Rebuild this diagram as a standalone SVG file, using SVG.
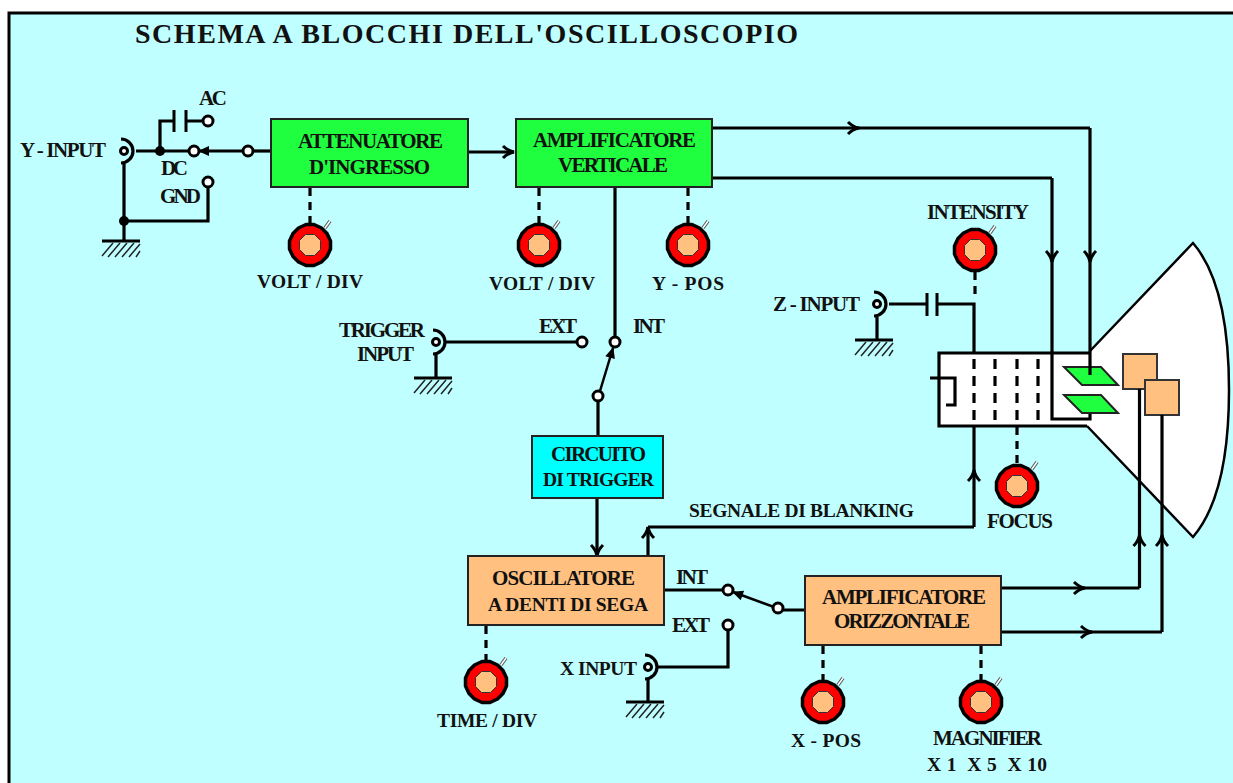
<svg xmlns="http://www.w3.org/2000/svg" width="1233" height="783" viewBox="0 0 1233 783">
<style>
text{font-family:"Liberation Serif","Times New Roman",serif;font-weight:bold;font-size:21px;fill:#111}
.title{font-size:28px}
.n{font-size:19.500px}
.box{stroke:#222;stroke-width:2}
.w{fill:none;stroke:#000;stroke-width:3.2}
.d{fill:none;stroke:#000;stroke-width:3.2;stroke-dasharray:8 6}
.g{fill:none;stroke:#000;stroke-width:3.2;stroke-dasharray:10 7}
.t{fill:#fff;stroke:#000;stroke-width:3}
.dot{fill:#000}
.a{marker-end:url(#arr)}
</style>
<defs>
<marker id="arr" markerUnits="userSpaceOnUse" markerWidth="16" markerHeight="16" refX="13" refY="8" orient="auto"><path d="M2 2Q7 7 13 8Q7 9 2 14" fill="none" stroke="#000" stroke-width="3"/></marker>
<marker id="sw" markerUnits="userSpaceOnUse" markerWidth="14" markerHeight="12" refX="11" refY="6" orient="auto"><path d="M1 1L12 6L1 11Z" fill="#000"/></marker>
<g id="knob">
<path d="M15 -17L20 -24" stroke="#555" stroke-width="3.500" fill="none"/>
<path d="M15 -17L20 -24" stroke="#fff" stroke-width="1.500" fill="none"/>
<polygon points="-4,-20.500 4,-20.500 11.500,-17 17,-11.500 20.500,-4 20.500,4 17,11.500 11.500,17 4,20.500 -4,20.500 -11.500,17 -17,11.500 -20.500,4 -20.500,-4 -17,-11.500 -11.500,-17" fill="#ff0000" stroke="#000" stroke-width="3.500" stroke-linejoin="round"/>
<polygon points="-4.500,-10.500 4.500,-10.500 10.500,-4.500 10.500,4.500 4.500,10.500 -4.500,10.500 -10.500,4.500 -10.500,-4.500" fill="#ffc080" stroke="#333" stroke-width="1"/>
</g>
<g id="gnd">
<path d="M-19 0H19" stroke="#000" stroke-width="3"/>
<path d="M-8 2L-19 15M-1 2L-13 16M6 2L-6 16M13 2L1 16M19 3L8 16M19 10L15 16" stroke="#222" stroke-width="1.500"/>
</g>
<g id="jack">
<path d="M-3 -12A12 12 0 0 1 -3 12" fill="none" stroke="#000" stroke-width="3.200"/>
<circle r="3.500" fill="#fff" stroke="#000" stroke-width="3"/>
</g>
</defs>
<rect width="1233" height="783" fill="#fff"/>
<rect x="9" y="13" width="1224" height="770" fill="#bfffff"/>
<path d="M9 783V13H1233" fill="none" stroke="#000" stroke-width="3"/>
<text class="title" x="135" y="43" textLength="663">SCHEMA A BLOCCHI DELL'OSCILLOSCOPIO</text>

<g id="crt">
<path d="M1090 351L1193 243Q1229 285 1229 390Q1229 495 1193 537L1087 426Z" fill="#fff"/>
<path d="M1090 351L1193 243Q1229 285 1229 390Q1229 495 1193 537L1087 426" fill="none" stroke="#000" stroke-width="2.500"/>
<path d="M1090 353H939V426H1087" fill="#fff" stroke="#000" stroke-width="3.200"/>
<path class="w" d="M930 378H955V405H946"/>
<path class="g" d="M974 359V422M995 359V422M1017 359V422M1038 359V422"/>
<polygon points="1064,367 1101,367 1118,385 1082,385" fill="#1fff3f" stroke="#222" stroke-width="2"/>
<polygon points="1064,395 1101,395 1118,413 1082,413" fill="#1fff3f" stroke="#222" stroke-width="2"/>
<rect x="1123" y="354" width="34" height="35" fill="#ffc080" stroke="#333" stroke-width="2"/>
<rect x="1145" y="380" width="34" height="35" fill="#ffc080" stroke="#333" stroke-width="2"/>
</g>

<g id="connectors">
<path class="w a" d="M712 128H859"/>
<path class="w" d="M859 128H1090"/>
<path class="w a" d="M1090 128V262"/>
<path class="w" d="M1090 262V375"/>
<path class="w" d="M712 178H1052"/>
<path class="w a" d="M1052 178V262"/>
<path class="w" d="M1052 262V419H1090V414"/>
<path class="w a" d="M468 152H514"/>
<path class="w" d="M136 151H188M160 151V121H173M187 121H203M124 163V241M124 221H208V187"/>
<path d="M174 110V132M186 110V132" stroke="#000" stroke-width="3"/>
<path d="M248 151H199" stroke="#000" stroke-width="3" marker-end="url(#sw)"/>
<path class="w" d="M253 151H271"/>
<circle class="dot" cx="160" cy="151" r="5"/>
<circle class="dot" cx="124" cy="221" r="5"/>
<path class="w" d="M615 187V338"/>
<path d="M600 391L613 348" stroke="#000" stroke-width="2.500" marker-end="url(#sw)"/>
<path class="w" d="M446 342H578M436 353V378M598 401V436"/>
<path class="w a" d="M597 498V556"/>
<path class="w a" d="M648 556V527"/>
<path class="w" d="M648 527H974"/>
<path class="w a" d="M974 527V470"/>
<path class="w" d="M974 470V426"/>
<path class="w" d="M889 304H927M937 304H974V353M877 317V340"/>
<path d="M927 293V316M937 293V316" stroke="#000" stroke-width="3"/>
<path class="w" d="M664 590H724M658 667H728V630M648 678V702M783 610H805"/>
<path d="M774 607L733 592" stroke="#000" stroke-width="2.500" marker-end="url(#sw)"/>
<path class="w a" d="M1001 588H1085"/>
<path class="w" d="M1085 588H1139.500"/>
<path class="w a" d="M1139.500 588V535"/>
<path class="w" d="M1139.500 535V389"/>
<path class="w a" d="M1001 632H1092"/>
<path class="w" d="M1092 632H1162"/>
<path class="w a" d="M1162 632V535"/>
<path class="w" d="M1162 535V415"/>
<path class="d" d="M310 188V223M539 188V223M688 188V223M975 272V300M1017 427V464M486 626V660M823 646V680M981 646V680"/>
<circle class="t" cx="208" cy="121" r="5"/>
<circle class="t" cx="194" cy="151" r="5"/>
<circle class="t" cx="248" cy="151" r="5"/>
<circle class="t" cx="208" cy="182" r="5"/>
<circle class="t" cx="582" cy="342" r="5"/>
<circle class="t" cx="615" cy="342" r="5"/>
<circle class="t" cx="598" cy="396" r="5"/>
<circle class="t" cx="728" cy="590" r="5"/>
<circle class="t" cx="728" cy="625" r="5"/>
<circle class="t" cx="778" cy="608" r="5"/>
</g>

<g id="y-input"><use href="#jack" x="124" y="151"/><use href="#gnd" x="121" y="241"/>
<text x="20" y="157" textLength="86">Y - INPUT</text><text x="199" y="105" textLength="28">AC</text><text x="161" y="175" textLength="27">DC</text><text x="160" y="203" textLength="41">GND</text></g>
<g id="z-input"><use href="#jack" x="877" y="304"/><use href="#gnd" x="874" y="340"/><text x="773" y="311" textLength="87">Z - INPUT</text></g>
<g id="trigger-input"><use href="#jack" x="436" y="342"/><use href="#gnd" x="433" y="378"/>
<text x="339" y="337" textLength="86">TRIGGER</text><text x="357" y="361" textLength="57">INPUT</text><text x="539" y="333" textLength="38">EXT</text><text x="633" y="333" textLength="32">INT</text></g>
<g id="x-input"><use href="#jack" x="648" y="667"/><use href="#gnd" x="645" y="702"/>
<text class="n" x="560" y="675" textLength="77">X INPUT</text><text x="676" y="584" textLength="32">INT</text><text x="672" y="632" textLength="38">EXT</text></g>

<g id="attenuatore"><rect class="box" x="271" y="119" width="197" height="68" fill="#1fff3f"/><text x="298" y="148" textLength="145">ATTENUATORE</text><text x="309" y="174" textLength="121">D'INGRESSO</text></g>
<g id="amp-verticale"><rect class="box" x="516" y="119" width="196" height="68" fill="#1fff3f"/><text x="533" y="147" textLength="163">AMPLIFICATORE</text><text x="558" y="172" textLength="110">VERTICALE</text></g>
<g id="circuito-trigger"><rect class="box" x="532" y="436" width="131" height="62" fill="#00ffff"/><text x="551" y="461" textLength="95">CIRCUITO</text><text class="n" x="543" y="486" textLength="111">DI TRIGGER</text></g>
<g id="oscillatore"><rect class="box" x="468" y="556" width="196" height="69" fill="#ffc080"/><text x="492" y="585" textLength="143">OSCILLATORE</text><text class="n" x="488" y="611" textLength="160">A DENTI DI SEGA</text></g>
<g id="amp-orizzontale"><rect class="box" x="805" y="576" width="196" height="69" fill="#ffc080"/><text x="822" y="604" textLength="164">AMPLIFICATORE</text><text x="834" y="628" textLength="136">ORIZZONTALE</text></g>

<g id="knob-volt1"><use href="#knob" x="310" y="245"/><text class="n" x="257" y="288" textLength="106">VOLT / DIV</text></g>
<g id="knob-volt2"><use href="#knob" x="539" y="245"/><text class="n" x="489" y="290" textLength="106">VOLT / DIV</text></g>
<g id="knob-ypos"><use href="#knob" x="688" y="245"/><text class="n" x="652" y="290" textLength="72">Y - POS</text></g>
<g id="knob-intensity"><use href="#knob" x="975" y="250"/><text x="927" y="219" textLength="102">INTENSITY</text></g>
<g id="knob-focus"><use href="#knob" x="1017" y="486"/><text x="987" y="528" textLength="66">FOCUS</text></g>
<g id="knob-time"><use href="#knob" x="486" y="682"/><text class="n" x="437" y="727" textLength="100">TIME / DIV</text></g>
<g id="knob-xpos"><use href="#knob" x="823" y="702"/><text class="n" x="791" y="747" textLength="70">X - POS</text></g>
<g id="knob-magnifier"><use href="#knob" x="981" y="702"/><text x="933" y="745" textLength="109">MAGNIFIER</text><text class="n" x="927" y="771" textLength="120" xml:space="preserve">X 1  X 5  X 10</text></g>
<text class="n" x="689" y="517" textLength="225">SEGNALE DI BLANKING</text>
</svg>
